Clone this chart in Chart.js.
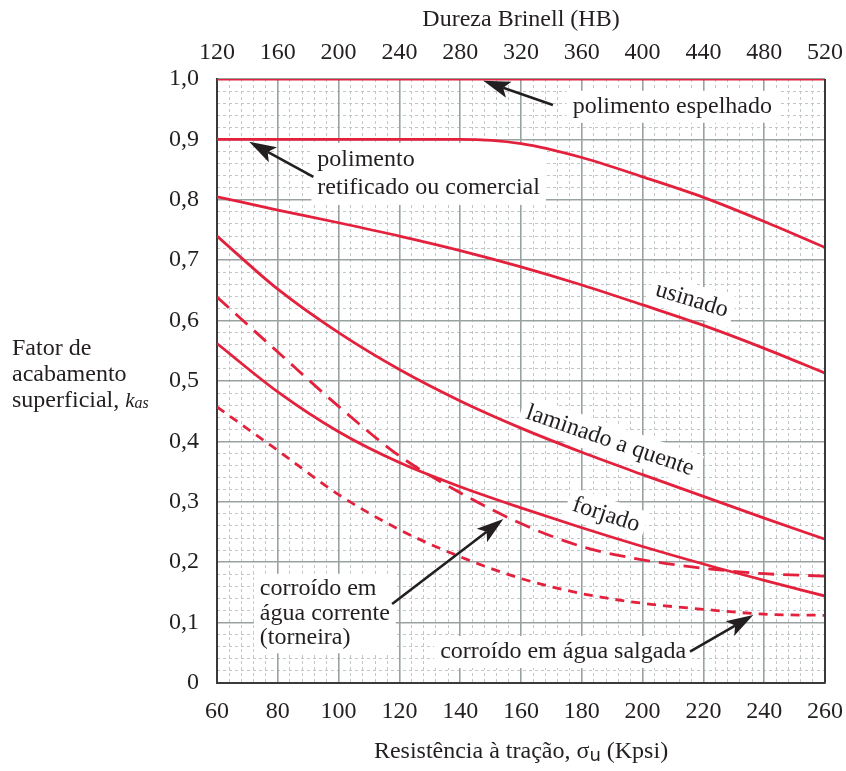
<!DOCTYPE html>
<html><head><meta charset="utf-8">
<script src="https://cdn.jsdelivr.net/npm/chart.js@4.4.0/dist/chart.umd.min.js"></script>
<style>html,body{margin:0;padding:0;background:#fff;}#wrap{width:846px;height:771px;}</style>
</head><body><div id="wrap"><canvas id="c" width="846" height="771"></canvas></div>
<script>
// ---- data ----
const tensileKpsi  = [60, 80, 100, 120, 140, 160, 180, 200, 220, 240, 260];
const espelhado    = [1.0, 1.0, 1.0, 1.0, 1.0, 1.0, 1.0, 1.0, 1.0, 1.0, 1.0];
const retificado   = [0.90, 0.90, 0.90, 0.90, 0.90, 0.893, 0.870, 0.838, 0.804, 0.764, 0.721];
const usinado      = [0.805, 0.783, 0.762, 0.740, 0.716, 0.689, 0.659, 0.626, 0.592, 0.554, 0.513];
const laminado     = [0.740, 0.652, 0.580, 0.519, 0.467, 0.422, 0.382, 0.345, 0.309, 0.273, 0.238];
const forjado      = [0.562, 0.482, 0.416, 0.365, 0.325, 0.290, 0.257, 0.226, 0.197, 0.170, 0.144];
const aguaCorrente = [0.639, 0.548, 0.458, 0.376, 0.315, 0.264, 0.226, 0.204, 0.190, 0.181, 0.177];
const aguaSalgada  = [0.457, 0.385, 0.312, 0.254, 0.209, 0.173, 0.148, 0.132, 0.122, 0.114, 0.112];
const brinellRange = [120, 520];
const kpsiRange    = [60, 260];
const ktRange      = [0, 1];

// annotation texts (positions in data units)
const annotations = [
  {lines:['polimento espelhado'], x:177.0, y:0.954, align:'left', rot:0, gap:26},
  {lines:['polimento','retificado ou comercial'], x:93.0, y:0.866, align:'left', rot:0, gap:28},
  {lines:['usinado'], x:216.2, y:0.634, align:'center', rot:17, gap:26},
  {lines:['laminado a quente'], x:189.3, y:0.401, align:'center', rot:19, gap:26},
  {lines:['forjado'], x:188.0, y:0.278, align:'center', rot:18, gap:26},
  {lines:['corroído em','água corrente','(torneira)'], x:74.1, y:0.1556, align:'left', rot:0, gap:24.5},
  {lines:['corroído em água salgada'], x:133.4, y:0.0513, align:'left', rot:0, gap:26}
];
const arrows = [
  {from:[170.5, 0.957], to:[147.6, 0.997]},
  {from:[91.7, 0.838],  to:[70.6, 0.896]},
  {from:[117.6, 0.1308], to:[154.2, 0.2715]},
  {from:[215.6, 0.0518], to:[236.4, 0.1126]}
];

// ---- styles ----
const RED = '#e3213d';
const INK = '#231f20';
const SERIF = '"Liberation Serif", "Times New Roman", serif';
const MAJOR = '#99a2a1';
const MINOR = '#c0c7c6';
const isMult = (v, s) => Math.abs(v / s - Math.round(v / s)) < 1e-6;

function pts(arr){ return tensileKpsi.map((x, i) => ({x, y: arr[i]})); }
function ds(label, arr, dash){
  return {label, data: pts(arr), borderColor: RED, borderWidth: 2.8, pointRadius: 0,
          cubicInterpolationMode: 'monotone', fill: false, borderDash: dash || [], borderCapStyle: 'butt'};
}

function drawArrow(ctx, x1, y1, x2, y2){
  const a = Math.atan2(y2 - y1, x2 - x1), c = Math.cos(a), s = Math.sin(a);
  const L = 27, W = 8.5, N = 21;
  ctx.strokeStyle = INK; ctx.fillStyle = INK; ctx.lineWidth = 2.6;
  ctx.beginPath(); ctx.moveTo(x1, y1); ctx.lineTo(x2 - N * c, y2 - N * s); ctx.stroke();
  const bx = x2 - L * c, by = y2 - L * s;
  ctx.beginPath();
  ctx.moveTo(x2, y2);
  ctx.lineTo(bx - W * s, by + W * c);
  ctx.lineTo(x2 - N * c, y2 - N * s);
  ctx.lineTo(bx + W * s, by - W * c);
  ctx.closePath(); ctx.fill();
}

const decor = {
  id: 'decor',
  beforeDatasetsDraw(chart){
    const {ctx, scales: {x, y}} = chart;
    ctx.save();
    ctx.font = `24px ${SERIF}`;
    ctx.textBaseline = 'middle';
    for (const a of annotations){
      const px = x.getPixelForValue(a.x), py = y.getPixelForValue(a.y);
      ctx.save();
      ctx.translate(px, py);
      ctx.rotate(a.rot * Math.PI / 180);
      const w = Math.max(...a.lines.map(t => ctx.measureText(t).width));
      const h = a.lines.length * a.gap;
      const x0 = a.align === 'left' ? 0 : -w / 2;
      ctx.fillStyle = '#fff';
      ctx.fillRect(x0 - 6, -a.gap / 2 - 3, w + 12, h + 6);
      ctx.fillStyle = INK;
      ctx.textAlign = a.align;
      a.lines.forEach((t, i) => ctx.fillText(t, 0, i * a.gap));
      ctx.restore();
    }
    ctx.restore();
  },
  afterDatasetsDraw(chart){
    const {ctx, chartArea, scales: {x, y}} = chart;
    ctx.save();
    ctx.strokeStyle = '#3a3a3a'; ctx.lineWidth = 2;
    ctx.beginPath(); ctx.moveTo(chartArea.right, chartArea.top); ctx.lineTo(chartArea.right, chartArea.bottom); ctx.stroke();
    for (const ar of arrows){
      drawArrow(ctx, x.getPixelForValue(ar.from[0]), y.getPixelForValue(ar.from[1]),
                     x.getPixelForValue(ar.to[0]), y.getPixelForValue(ar.to[1]));
    }
    ctx.restore();
  },
  afterDraw(chart){
    const {ctx, chartArea} = chart;
    ctx.save();
    ctx.fillStyle = INK;
    ctx.textBaseline = 'middle';
    ctx.textAlign = 'left';
    // y-axis title
    ctx.font = `24px ${SERIF}`;
    ctx.fillText('Fator de', 12, 349);
    ctx.fillText('acabamento', 12, 375);
    const t3 = 'superficial, ';
    ctx.fillText(t3, 12, 401);
    let xx = 12 + ctx.measureText(t3).width;
    ctx.font = `italic 21px ${SERIF}`;
    ctx.fillText('k', xx, 401);
    xx += ctx.measureText('k').width;
    ctx.font = `italic 16px ${SERIF}`;
    ctx.fillText('as', xx, 404);
    // x-axis title
    const cx = (chartArea.left + chartArea.right) / 2, cy = 752;
    const p1 = 'Resistência à tração, σ', p2 = 'u', p3 = ' (Kpsi)';
    ctx.font = `24px ${SERIF}`;
    const w1 = ctx.measureText(p1).width, w3 = ctx.measureText(p3).width;
    ctx.font = `18px "DejaVu Sans", sans-serif`;
    const w2 = ctx.measureText(p2).width;
    let sx = cx - (w1 + w2 + w3) / 2;
    ctx.font = `24px ${SERIF}`;
    ctx.fillText(p1, sx, cy);
    sx += w1;
    ctx.font = `18px "DejaVu Sans", sans-serif`;
    ctx.fillText(p2, sx, cy + 4);
    sx += w2;
    ctx.font = `24px ${SERIF}`;
    ctx.fillText(p3, sx, cy);
    ctx.restore();
  }
};

const tickFont = {family: SERIF, size: 24};
const noPadH = s => { s.paddingLeft = 0; s.paddingRight = 0; };
const noPadV = s => { s.paddingTop = 0; s.paddingBottom = 0; };

new Chart(document.getElementById('c'), {
  type: 'line',
  data: {
    datasets: [
      ds('polimento espelhado', espelhado),
      ds('polimento retificado ou comercial', retificado),
      ds('usinado', usinado),
      ds('laminado a quente', laminado),
      ds('forjado', forjado),
      ds('corroído em água corrente', aguaCorrente, [16, 9]),
      ds('corroído em água salgada', aguaSalgada, [9, 7])
    ]
  },
  options: {
    responsive: false,
    animation: false,
    devicePixelRatio: 1,
    layout: {padding: {left: 0, right: 21, top: 0, bottom: 0}},
    plugins: {legend: {display: false}, tooltip: {enabled: false}},
    scales: {
      xm: {
        type: 'linear', position: 'bottom', min: kpsiRange[0], max: kpsiRange[1],
        ticks: {display: false, stepSize: 4},
        grid: {color: c => isMult(c.tick.value, 20) ? 'rgba(0,0,0,0)' : MINOR, lineWidth: 1, drawTicks: false, z: -1},
        border: {display: false, dash: [3, 3]},
        afterFit: s => { s.height = 0; noPadH(s); }
      },
      ym: {
        type: 'linear', position: 'left', min: ktRange[0], max: ktRange[1],
        ticks: {display: false, stepSize: 0.02},
        grid: {color: c => isMult(c.tick.value, 0.1) ? 'rgba(0,0,0,0)' : MINOR, lineWidth: 1, drawTicks: false, z: -1},
        border: {display: false, dash: [3, 3]},
        afterFit: s => { s.width = 0; noPadV(s); }
      },
      x: {
        type: 'linear', position: 'bottom', min: kpsiRange[0], max: kpsiRange[1],
        ticks: {stepSize: 20, font: tickFont, color: INK, padding: 14.5, autoSkip: false, maxRotation: 0},
        grid: {color: c => c.tick.value === kpsiRange[0] ? 'rgba(0,0,0,0)' : MAJOR, lineWidth: 1.6, drawTicks: false},
        border: {display: true, color: '#3a3a3a', width: 2},
        afterFit: s => { s.height = 88; noPadH(s); }
      },
      y: {
        type: 'linear', position: 'left', min: ktRange[0], max: ktRange[1],
        ticks: {stepSize: 0.1, font: tickFont, color: INK, padding: 18,
                callback: v => v === 0 ? '0' : v.toFixed(1).replace('.', ',')},
        grid: {color: c => c.tick.value === 0 ? 'rgba(0,0,0,0)' : MAJOR, lineWidth: 1.6, drawTicks: false},
        border: {display: true, color: '#3a3a3a', width: 2},
        afterFit: s => { s.width = 217; noPadV(s); }
      },
      x2: {
        type: 'linear', position: 'top', min: brinellRange[0], max: brinellRange[1],
        ticks: {stepSize: 40, font: tickFont, color: INK, padding: 11.5, autoSkip: false, maxRotation: 0},
        grid: {display: false, drawTicks: false},
        border: {display: false},
        title: {display: true, text: 'Dureza Brinell (HB)', font: tickFont, color: INK, padding: {top: 5.5, bottom: 0}},
        afterFit: s => { s.height = 79; noPadH(s); }
      }
    }
  },
  plugins: [decor]
});
</script>
</body></html>
